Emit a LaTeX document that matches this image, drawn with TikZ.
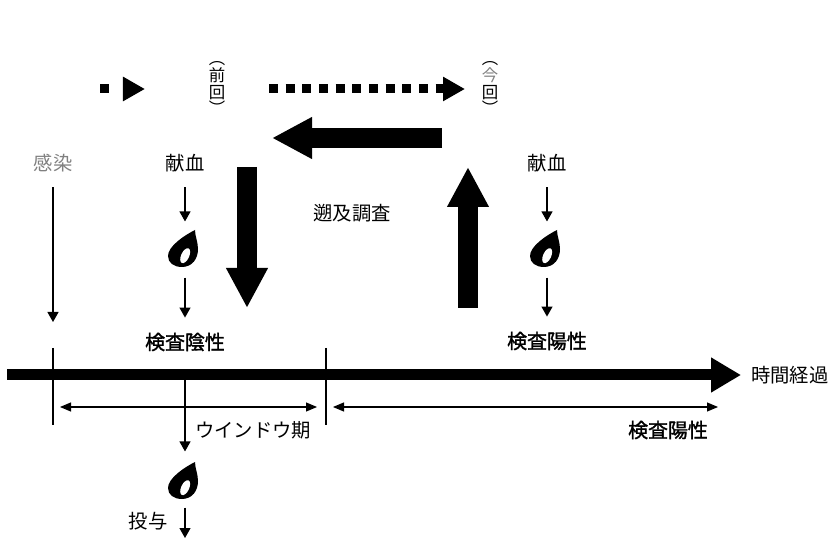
\documentclass[tikz,border=0pt]{standalone}
\usepackage{fontspec}
\newfontfamily\jp{Noto Sans CJK JP}
\newfontfamily\jpbold[FakeBold=1.6]{Noto Sans CJK JP}
\usetikzlibrary{arrows.meta}

% blood drop drawn round a named spot
\newcommand{\blooddrop}[1]{%
  \begin{scope}[shift={(#1)}]
    \fill (10,-19) .. controls (0,-14) and (-17,-3) .. (-17,7)
          .. controls (-17,14) and (-11,18) .. (-3,18)
          .. controls (7,18) and (13,10) .. (13,0)
          .. controls (13,-7) and (10,-13) .. (10,-19) -- cycle;
    \fill[white, rotate=-25] (3,6) ellipse [x radius=4, y radius=8];
  \end{scope}}

\begin{document}
\begin{tikzpicture}[x=0.03cm, y=-0.03cm,
    lbl/.style={font=\jp\fontsize{16.5}{18}\selectfont, inner sep=0pt},
    boldlbl/.style={font=\jpbold\fontsize{17}{19}\selectfont, inner sep=0pt},
    vlbl/.style={font=\jp\fontsize{14}{14.5}\selectfont, inner sep=0pt, align=center},
    dropspot/.style={minimum width=0.9cm, minimum height=1.1cm, inner sep=0pt},
    flow/.style={line width=1.1pt, -{Triangle[length=0.3cm, width=0.33cm]}},
    tickline/.style={line width=1.1pt},
    span/.style={line width=0.9pt, {Triangle[length=0.33cm, width=0.27cm]}-{Triangle[length=0.33cm, width=0.27cm]}},
    timeline/.style={line width=0.33cm, -{Triangle[length=0.9cm, width=0.99cm]}},
    bigarrow/.style={line width=0.6cm, -{Triangle[length=1.2cm, width=1.17cm]}},
    dotarrow/.style={line width=0.27cm, dash pattern=on 0.27cm off 0.23cm, -{Triangle[length=0.66cm, width=0.69cm]}}
  ]
  \useasboundingbox (0,0) rectangle (830,539);

  % top: previous and current donation
  \node[vlbl] (prev) at (217,88) {︵\\前\\回\\︶};
  \node[vlbl] (cur) at (490,88) {︵\\\textcolor{gray}{今}\\回\\︶};
  \coordinate (d1s) at (100,89);
  \coordinate (d1e) at (145,89);
  \coordinate (d2s) at (269,89);
  \coordinate (d2e) at (465,89);
  \draw[dotarrow, dash pattern=on 0.27cm off 0.42cm] (d1s) -- (d1e);
  \draw[dotarrow] (d2s) -- (d2e);

  \node[lbl, text=gray] (inf) at (53,163) {感染};
  \node[lbl] (don1) at (185,163) {献血};
  \node[lbl] (don2) at (547,163) {献血};
  \node[lbl] (trace) at (352,213) {遡及調査};

  % look-back arrows
  \coordinate (left-s) at (442,138);
  \coordinate (left-e) at (272,138);
  \coordinate (down-s) at (247,167);
  \coordinate (down-e) at (247,308);
  \coordinate (up-s) at (468,308);
  \coordinate (up-e) at (468,167);
  \draw[bigarrow] (left-s) -- (left-e);
  \draw[bigarrow] (down-s) -- (down-e);
  \draw[bigarrow] (up-s) -- (up-e);

  % donations and test results
  \node[dropspot] (drop1) at (185,249) {};
  \node[dropspot] (drop2) at (547,249) {};
  \blooddrop{drop1}
  \blooddrop{drop2}
  \node[boldlbl] (neg) at (185,342) {検査陰性};
  \node[boldlbl] (pos1) at (547,341) {検査陽性};
  \coordinate (inf-end) at (53,322);
  \draw[flow, shorten <=0.45cm] (inf) -- (inf-end);
  \draw[flow, shorten <=0.45cm, shorten >=0.27cm] (don1) -- (drop1);
  \draw[flow, shorten <=0.3cm, shorten >=0.45cm] (drop1) -- (neg);
  \draw[flow, shorten <=0.45cm, shorten >=0.27cm] (don2) -- (drop2);
  \draw[flow, shorten <=0.3cm, shorten >=0.45cm] (drop2) -- (pos1);

  % time axis
  \coordinate (t0) at (7,375);
  \node[lbl, anchor=west] (time) at (751,375) {時間経過};
  \draw[timeline, shorten >=0.3cm] (t0) -- (time.west);
  \coordinate (tick1) at (53,348);
  \coordinate (tick2) at (326,348);
  \draw[tickline] (tick1) -- ++(0,77);
  \draw[tickline] (tick2) -- ++(0,77);

  % window period and positive period
  \coordinate (w1) at (60,407);
  \coordinate (w2) at (317,407);
  \coordinate (p1) at (333,407);
  \coordinate (p2) at (718,407);
  \draw[span] (w1) -- (w2);
  \draw[span] (p1) -- (p2);
  \node[lbl] (window) at (253,430) {ウインドウ期};
  \node[boldlbl] (pos2) at (668,430) {検査陽性};

  % transfusion of the window period blood
  \coordinate (tx) at (185,375);
  \node[dropspot] (drop3) at (185,481) {};
  \blooddrop{drop3}
  \draw[flow, shorten >=0.33cm] (tx) -- (drop3);
  \node[lbl] (give) at (148,521) {投与};
  \coordinate (give-end) at (185,538);
  \draw[flow, shorten <=0.24cm] (drop3) -- (give-end);
\end{tikzpicture}
\end{document}
